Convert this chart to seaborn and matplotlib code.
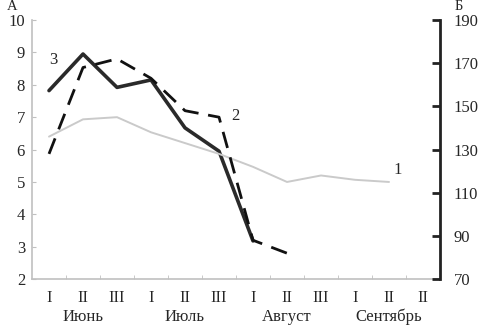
import matplotlib
matplotlib.use("Agg")
import matplotlib.pyplot as plt
import numpy as np
import pandas as pd
import seaborn as sns

# decade labels (the last one is printed as "II" in the source)
DECADES = ["I", "II", "III", "I", "II", "III", "I", "II", "III", "I", "II", "II"]
MONTHS = ["Июнь", "Июль", "Август", "Сентябрь"]

# curve 3, scale А
SERIES_3 = [7.82, 8.95, 7.92, 8.15, 6.67, 5.95, 3.18]
# curve 2, scale Б
SERIES_2 = [128, 168, 172, 163, 148, 145, 88, 82]
# curve 1, scale Б
SERIES_1 = [136, 144, 145, 138, 133, 128, 122, 115, 118, 116, 115]


def frame(values):
    return pd.DataFrame({"x": np.arange(len(values)), "y": values})


def main() -> None:
    sns.set_style("white")
    plt.rcParams["font.family"] = ["Liberation Serif", "DejaVu Serif"]
    fs = 12

    fig = plt.figure(figsize=(4.82, 3.28), dpi=100)
    ax = fig.add_axes([0.0664, 0.149, 0.8465, 0.79])
    ax2 = ax.twinx()

    sns.lineplot(data=frame(SERIES_1), x="x", y="y", ax=ax2, color="#cacaca", lw=1.4)
    sns.lineplot(data=frame(SERIES_2), x="x", y="y", ax=ax2, color="#111111", lw=2.0,
                 dashes=False, linestyle=(0, (6, 3.5)))
    sns.lineplot(data=frame(SERIES_3), x="x", y="y", ax=ax, color="#2a2a2a", lw=2.6)

    ax.set_xlim(-0.5, len(DECADES) - 0.5)
    ax.set_ylim(2, 10)
    ax2.set_ylim(70, 190)
    ax.set_yticks(range(2, 11))
    ax2.set_yticks(range(70, 191, 20))
    ax.set_xticks(np.arange(len(DECADES)))
    ax.set_xticklabels(DECADES, fontsize=fs)
    ax.set_xticks(np.arange(len(DECADES)) + 0.5, minor=True)
    ax.set_xlabel("")
    ax.set_ylabel("")
    ax2.set_ylabel("")

    for a in (ax, ax2):
        for s in a.spines.values():
            s.set_visible(False)
    ax.spines["left"].set_visible(True)
    ax.spines["bottom"].set_visible(True)
    ax.spines["left"].set_color("#c0c0c0")
    ax.spines["bottom"].set_color("#c0c0c0")
    ax.spines["left"].set_linewidth(1.2)
    ax.spines["bottom"].set_linewidth(1.2)
    ax2.spines["right"].set_visible(True)
    ax2.spines["right"].set_color("#222222")
    ax2.spines["right"].set_linewidth(2.0)

    ax.tick_params(axis="y", which="major", direction="in", length=3, color="#c0c0c0",
                   labelsize=fs, pad=5, left=True)
    ax.tick_params(axis="x", which="major", length=0, labelsize=fs, pad=8)
    ax.tick_params(axis="x", which="minor", direction="in", length=3, color="#c0c0c0",
                   bottom=True)
    ax2.tick_params(axis="y", direction="in", length=6, width=2, color="#222222",
                    labelsize=fs, pad=10, right=True)

    for i, m in enumerate(MONTHS):
        ax.text(3 * i + 1, -0.115, m, transform=ax.get_xaxis_transform(),
                ha="center", va="top", fontsize=fs)

    fig.text(12.5 / 482, 1.0, "А", ha="center", va="top", fontsize=fs - 1.5)
    fig.text(459 / 482, 1.0, "Б", ha="center", va="top", fontsize=fs - 1.5)

    ax.text(0.12, 8.76, "3", fontsize=fs, ha="center", va="center")
    ax2.text(5.47, 145.5, "2", fontsize=fs, ha="center", va="center")
    ax2.text(10.24, 120.5, "1", fontsize=fs, ha="center", va="center")

    fig.savefig("out.png", dpi=100)
    plt.close(fig)


if __name__ == "__main__":
    main()
